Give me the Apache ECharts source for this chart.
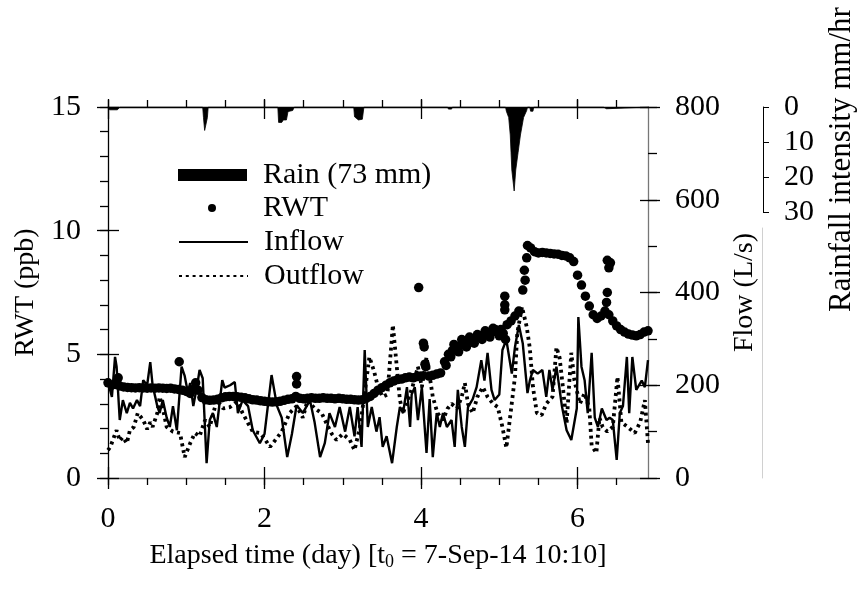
<!DOCTYPE html>
<html><head><meta charset="utf-8">
<script src="https://cdn.jsdelivr.net/npm/echarts@6/dist/echarts.min.js"></script>
<style>html,body{margin:0;padding:0;background:#fff}#c{width:865px;height:590px}</style>
</head><body><div id="c"></div>
<script>
// ---------- tick labels ----------
const dayMajorTicks = [0, 2, 4, 6];
const dayMinorTicks = [0, 0.5, 1, 1.5, 2, 2.5, 3, 3.5, 4, 4.5, 5, 5.5, 6, 6.5];
const rwtMajorTicks = [0, 5, 10, 15];
const rwtMinorTicks = [0, 1, 2, 3, 4, 5, 6, 7, 8, 9, 10, 11, 12, 13, 14, 15];
const flowMajorTicks = [0, 200, 400, 600, 800];
const flowMinorTicks = [0, 100, 200, 300, 400, 500, 600, 700, 800];
const rainTicks = [0, 10, 20, 30];

// ---------- rain (mm/hr) ----------
const rainDays = [0, 0.02, 0.12, 0.15, 1.21, 1.22, 1.235, 1.255, 1.27, 1.28, 2.17, 2.18, 2.22, 2.24, 2.28, 2.30, 2.36, 2.38,
  3.14, 3.15, 3.20, 3.25, 3.27, 4.34, 4.35, 4.39, 4.40, 5.08, 5.09, 5.12, 5.14, 5.15, 5.16, 5.19, 5.21, 5.24, 5.27, 5.31, 5.35, 5.36,
  5.39, 5.40, 5.43, 5.44, 6.33, 6.34, 6.37, 6.38, 6.9];
const rainValues = [0, 0.8, 0.8, 0, 0, 3, 6.7, 6.7, 3, 0, 0, 4.4, 4.4, 3.7, 3.7, 1.3, 1.0, 0,
  0, 2.8, 3.7, 3.5, 0, 0, 0.6, 0.6, 0, 0, 1.2, 3, 8, 13, 18, 24, 18, 13, 8, 3, 1, 0,
  0, 1.2, 1.2, 0, 0, 0.5, 0.5, 0, 0];

// ---------- RWT (ppb) ----------
const rwtDays = [0.00,0.05,0.10,0.15,0.20,0.25,0.30,0.35,0.40,0.45,0.50,0.55,0.60,0.65,0.70,0.75,0.80,0.85,0.90,0.95,
  1.00,1.05,1.10,1.15,1.20,1.25,1.30,1.35,1.40,1.45,1.50,1.55,1.60,1.65,1.70,1.75,1.80,1.85,1.90,1.95,
  2.00,2.05,2.10,2.15,2.20,2.25,2.30,2.35,2.40,2.45,2.50,2.55,2.60,2.65,2.70,2.75,2.80,2.85,2.90,2.95,
  3.00,3.05,3.10,3.15,3.20,3.25,3.30,3.35,3.40,3.45,3.50,3.55,3.60,3.65,3.70,3.75,3.80,3.85,3.90,3.95,
  4.00,4.05,4.10,4.15,4.20,4.25,4.30,4.35,4.40,4.45,4.50,4.55,4.60,4.65,4.70,4.75,4.80,4.85,4.90,4.95,
  5.00,5.05,5.10,5.15,5.20,5.25,5.30,5.35,5.40,5.45,5.50,5.55,5.60,5.65,5.70,5.75,5.80,5.85,5.90,5.95,
  6.00,6.05,6.10,6.15,6.20,6.25,6.30,6.35,6.40,6.45,6.50,6.55,6.60,6.65,6.70,6.75,6.80,6.85,6.90,
  4.32,4.38,4.42,4.48,4.52,4.58,4.62,4.68,4.72,4.78,4.82,4.88,4.92,4.97,5.02,
  0.13,0.91,1.12,2.41,2.41,3.97,4.03,4.04,4.06,5.07,5.07,5.07,5.08,5.32,5.33,5.36,6.38,6.40,6.38,6.37,6.42];
const rwtValues = [3.85,3.75,3.78,3.72,3.68,3.66,3.65,3.64,3.65,3.64,3.63,3.64,3.63,3.64,3.63,3.62,3.63,3.60,3.58,3.55,
  3.50,3.42,3.60,3.55,3.25,3.16,3.14,3.15,3.18,3.24,3.28,3.30,3.30,3.28,3.26,3.24,3.20,3.16,3.15,3.12,
  3.10,3.08,3.07,3.08,3.10,3.14,3.18,3.20,3.30,3.22,3.20,3.22,3.24,3.22,3.22,3.24,3.22,3.22,3.20,3.22,
  3.20,3.18,3.18,3.16,3.15,3.16,3.22,3.30,3.42,3.55,3.65,3.75,3.85,3.92,3.98,4.00,4.05,4.08,4.05,4.10,
  4.12,4.60,4.12,4.15,4.20,4.25,4.70,5.00,5.15,5.30,5.35,5.50,5.55,5.62,5.68,5.72,5.80,5.85,5.92,6.00,
  5.75,5.85,6.20,6.35,6.55,6.75,7.60,8.90,9.30,9.15,9.10,9.12,9.10,9.08,9.06,9.05,9.00,8.98,8.90,8.75,
  8.20,7.80,7.35,6.95,6.60,6.45,6.55,6.75,6.60,6.35,6.15,6.00,5.90,5.82,5.78,5.75,5.80,5.90,5.95,
  4.55,4.90,5.40,5.10,5.60,5.30,5.70,5.45,5.80,5.60,5.95,5.70,6.05,5.90,6.00,
  4.05,4.70,3.85,4.10,3.80,7.70,5.45,5.30,4.50,7.35,7.00,6.80,5.60,8.40,8.00,9.40,8.80,8.50,7.50,7.10,8.70];

// ---------- Inflow (L/s) ----------
const inflowDays = [0.00,0.05,0.09,0.11,0.15,0.19,0.24,0.28,0.32,0.37,0.41,0.45,0.50,0.54,0.57,0.63,0.66,0.70,0.75,0.79,
  0.83,0.88,0.94,0.98,1.02,1.05,1.09,1.14,1.17,1.21,1.26,1.30,1.34,1.39,1.46,1.49,1.56,1.62,1.66,1.72,
  1.79,1.85,1.94,2.00,2.09,2.16,2.22,2.29,2.35,2.41,2.49,2.58,2.64,2.71,2.77,2.83,2.90,2.96,3.03,3.09,
  3.15,3.19,3.24,3.28,3.32,3.37,3.43,3.47,3.51,3.56,3.63,3.69,3.73,3.77,3.82,3.86,3.88,3.92,3.96,4.01,
  4.07,4.11,4.15,4.20,4.24,4.28,4.33,4.39,4.43,4.47,4.52,4.56,4.60,4.66,4.71,4.77,4.81,4.85,4.90,4.94,
  5.00,5.04,5.09,5.16,5.20,5.25,5.30,5.36,5.39,5.43,5.49,5.55,5.60,5.64,5.68,5.73,5.80,5.86,5.92,5.99,
  6.01,6.05,6.09,6.13,6.18,6.22,6.26,6.31,6.37,6.41,6.45,6.50,6.54,6.58,6.63,6.66,6.70,6.75,6.82,6.86,6.90];
const inflowValues = [207,175,261,240,125,168,140,162,150,168,155,211,200,250,200,155,140,168,130,110,
  155,103,240,220,185,205,155,200,233,215,32,125,140,110,211,195,200,207,140,168,
  155,103,75,95,222,155,130,45,95,157,140,168,120,45,75,140,110,153,100,153,
  90,153,67,276,110,153,100,131,67,90,32,110,153,140,196,110,180,196,125,196,
  54,170,45,140,110,140,110,125,67,190,110,67,153,170,196,254,210,270,190,168,
  180,276,298,225,282,330,290,183,210,233,225,233,175,233,190,240,155,103,82,150,
  347,240,211,140,270,130,110,150,125,130,125,39,140,155,261,140,261,190,210,196,254];

// ---------- Outflow (L/s) ----------
const outflowDays = [0.00,0.03,0.08,0.11,0.15,0.19,0.24,0.28,0.33,0.38,0.45,0.50,0.54,0.57,0.63,0.66,0.70,0.75,0.83,0.92,
  0.98,1.05,1.11,1.17,1.24,1.30,1.39,1.47,1.56,1.65,1.72,1.79,1.85,1.94,2.00,2.07,2.13,2.22,2.32,2.41,
  2.49,2.55,2.64,2.73,2.80,2.86,2.92,3.00,3.09,3.15,3.22,3.28,3.34,3.40,3.45,3.51,3.57,3.64,3.69,3.73,
  3.77,3.83,3.89,3.96,4.01,4.07,4.11,4.15,4.21,4.28,4.34,4.39,4.46,4.52,4.56,4.60,4.66,4.72,4.79,4.85,
  4.92,4.98,5.04,5.09,5.13,5.20,5.23,5.29,5.35,5.39,5.43,5.48,5.54,5.60,5.68,5.73,5.77,5.81,5.86,5.92,
  5.96,6.03,6.09,6.15,6.18,6.24,6.28,6.32,6.38,6.45,6.51,6.56,6.64,6.73,6.80,6.86,6.90];
const outflowValues = [60,67,90,103,80,88,75,103,110,140,125,105,120,110,140,175,150,110,100,97,
  45,75,97,90,125,110,168,150,153,165,140,118,100,97,85,67,80,100,140,155,
  130,168,150,140,115,95,82,95,82,60,110,183,261,230,196,175,180,330,240,168,
  140,168,196,240,196,261,220,175,140,125,150,160,150,175,205,160,140,175,196,175,
  160,153,110,65,120,218,313,369,326,280,196,140,135,160,175,282,260,200,118,270,
  210,160,183,150,70,54,130,110,100,110,218,120,110,97,120,168,75];

const pairs = (xs, ys) => xs.map((x, i) => [x, ys[i]]);

const FONT = 'Liberation Serif';
const txt = { fontFamily: FONT, fontSize: 28, color: '#000' };
const lab = { fontFamily: FONT, fontSize: 30, color: '#000' };
const GRID = { left: 108, top: 107, width: 540, height: 371 };
const XMIN = 0, XMAX = 6.9;
const tickStyle = { color: '#000', width: 1.3 };

function grid(o) { return Object.assign({}, GRID, { containLabel: false }, o || {}); }
function xAx(gridIndex, position, o) {
  return Object.assign({
    type: 'value', gridIndex, position, min: XMIN, max: XMAX,
    splitLine: { show: false }, axisLabel: { show: false }, axisTick: { show: false },
    axisLine: { show: false, onZero: false }
  }, o || {});
}
function yAx(gridIndex, position, min, max, o) {
  return Object.assign({
    type: 'value', gridIndex, position, min, max,
    splitLine: { show: false }, axisLabel: { show: false }, axisTick: { show: false },
    axisLine: { show: false, onZero: false }
  }, o || {});
}
function ticks(values, length, inside) {
  return { show: true, customValues: values, length, inside: !!inside, lineStyle: tickStyle };
}

const grids = [grid(), grid(), grid(), grid(), grid(), grid(),
  grid({ top: 107, height: 105 }),      // rain axis
  grid({ top: 228, height: 250 })];     // faint continuation line

const xAxes = [
  xAx(0, 'bottom', {
    axisLine: { show: true, onZero: false, lineStyle: { color: '#666', width: 1.3 } },
    axisTick: ticks(dayMinorTicks, 7, false),
    axisLabel: { show: true, customValues: dayMajorTicks, margin: 26, ...lab },
    name: '{a|Elapsed time (day) [t}{s|0}{a| = 7-Sep-14 10:10]}',
    nameLocation: 'middle', nameGap: 53,
    nameTextStyle: { ...txt, rich: { a: { ...txt, lineHeight: 30 }, s: { fontFamily: FONT, fontSize: 18, color: '#000', lineHeight: 30, verticalAlign: 'bottom', padding: [14, 0, 0, 0] } } }
  }),
  xAx(1, 'top', {
    axisLine: { show: true, onZero: false, lineStyle: { color: '#000', width: 1.3 } },
    axisTick: ticks(dayMinorTicks, 7, false)
  }),
  xAx(2, 'bottom', { axisTick: ticks(dayMajorTicks, 11, true) }),
  xAx(3, 'top', { axisTick: ticks(dayMajorTicks, 12, true) }),
  xAx(4, 'bottom', { axisTick: ticks(dayMajorTicks, 11, false) }),
  xAx(5, 'top', { axisTick: ticks(dayMajorTicks, 8, false) }),
  xAx(6, 'bottom', { show: false }),
  xAx(7, 'bottom', { show: false })
];

const yAxes = [
  yAx(0, 'left', 0, 15, {
    axisLine: { show: true, onZero: false, lineStyle: { color: '#000', width: 1.3 } },
    axisTick: ticks(rwtMinorTicks, 8, false),
    axisLabel: { show: true, customValues: rwtMajorTicks, margin: 27, ...lab },
    name: 'RWT (ppb)', nameLocation: 'middle', nameGap: 61, nameTextStyle: txt
  }),
  yAx(1, 'right', 0, 800, {
    axisLine: { show: true, onZero: false, lineStyle: { color: '#777', width: 1.3 } },
    axisTick: ticks(flowMinorTicks, 9, false),
    axisLabel: { show: true, customValues: flowMajorTicks, margin: 27, ...lab },
    name: 'Flow (L/s)', nameLocation: 'middle', nameGap: 80, nameTextStyle: txt
  }),
  yAx(2, 'left', 0, 15, { axisTick: ticks(rwtMajorTicks, 11, true) }),
  yAx(3, 'right', 0, 800, { axisTick: ticks(flowMajorTicks, 8, true) }),
  yAx(4, 'left', 0, 15, { axisTick: ticks(rwtMajorTicks, 11, false) }),
  yAx(5, 'right', 0, 800, { axisTick: ticks(flowMajorTicks, 12, false) }),
  yAx(6, 'right', 0, 30, {
    inverse: true, offset: 115,
    axisLine: { show: true, onZero: false, lineStyle: { color: '#000', width: 1 } },
    axisTick: { show: true, customValues: rainTicks, length: 6, inside: false, lineStyle: { color: '#000', width: 1 } },
    axisLabel: { show: true, customValues: rainTicks, margin: 21, ...lab },
    name: 'Rainfall intensity mm/hr', nameLocation: 'middle', nameGap: 63,
    nameTextStyle: { fontFamily: FONT, fontSize: 31, color: '#000' }
  }),
  yAx(7, 'right', 0, 1, {
    offset: 114,
    axisLine: { show: true, onZero: false, lineStyle: { color: '#d0d0d0', width: 1 } }
  })
];

const legendText = { fontFamily: FONT, fontSize: 30, color: '#000', lineHeight: 30 };
const legendBase = { orient: 'vertical', padding: 0, selectedMode: false };
const hideSymbol = { color: 'rgba(0,0,0,0)', opacity: 0, borderWidth: 0 };

const option = {
  animation: false,
  backgroundColor: '#fff',
  grid: grids,
  xAxis: xAxes,
  yAxis: yAxes,
  legend: [
    Object.assign({}, legendBase, { left: 178, top: 160, itemWidth: 69, itemHeight: 12,
      textStyle: { ...legendText, padding: [0, 0, 0, 11] },
      data: [{ name: 'Rain (73 mm)', icon: 'rect' }] }),
    Object.assign({}, legendBase, { left: 208, top: 193, itemWidth: 8, itemHeight: 8,
      textStyle: { ...legendText, padding: [0, 0, 0, 42] },
      data: [{ name: 'RWT', icon: 'circle' }] }),
    Object.assign({}, legendBase, { left: 178, top: 227, itemWidth: 69, itemHeight: 12,
      textStyle: { ...legendText, padding: [0, 0, 0, 11] },
      data: [{ name: 'Inflow', itemStyle: hideSymbol }] }),
    Object.assign({}, legendBase, { left: 178, top: 261, itemWidth: 69, itemHeight: 12,
      textStyle: { ...legendText, padding: [0, 0, 0, 11] },
      data: [{ name: 'Outflow', itemStyle: hideSymbol }] })
  ],
  series: [
    { name: 'Rain (73 mm)', type: 'line', xAxisIndex: 6, yAxisIndex: 6, data: pairs(rainDays, rainValues),
      symbol: 'none', itemStyle: { color: '#000' }, lineStyle: { color: '#000', width: 0.8 },
      areaStyle: { color: '#000', opacity: 1 } },
    { name: 'Inflow', type: 'line', xAxisIndex: 1, yAxisIndex: 1, data: pairs(inflowDays, inflowValues),
      symbol: 'none', itemStyle: { color: '#000' }, lineStyle: { color: '#000', width: 2.4 } },
    { name: 'Outflow', type: 'line', xAxisIndex: 1, yAxisIndex: 1, data: pairs(outflowDays, outflowValues),
      symbol: 'none', itemStyle: { color: '#000' }, lineStyle: { color: '#000', width: 3.8, type: [3, 3.8], cap: 'butt' } },
    { name: 'RWT', type: 'scatter', xAxisIndex: 0, yAxisIndex: 0, data: pairs(rwtDays, rwtValues),
      symbol: 'circle', symbolSize: 9.5, itemStyle: { color: '#000', opacity: 1 }, z: 5 }
  ]
};

const chart = echarts.init(document.getElementById('c'), null, { renderer: 'canvas' });
chart.setOption(option);
</script>
</body></html>
